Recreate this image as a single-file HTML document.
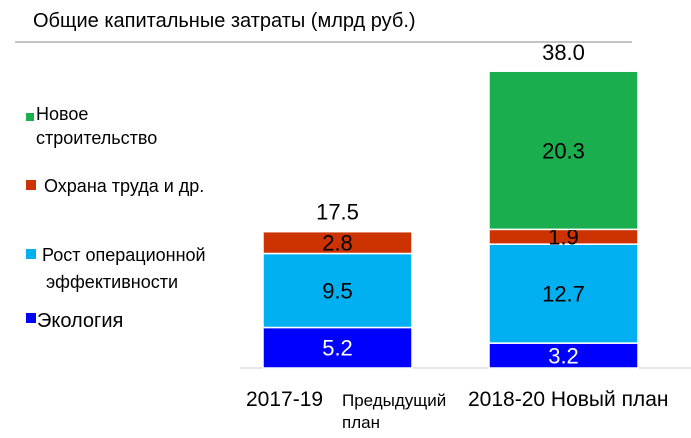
<!DOCTYPE html>
<html><head><meta charset="utf-8"><style>
html,body{margin:0;padding:0;background:#fff;}
svg{display:block;font-family:"Liberation Sans",sans-serif;}
</style></head><body>
<svg id="chart" width="691" height="438" viewBox="0 0 691 438">
<text x="33" y="27" font-size="20" fill="#000">Общие капитальные затраты (млрд руб.)</text>
<line x1="15" y1="42" x2="632" y2="42" stroke="#888" stroke-width="1"/>
<line x1="240" y1="368" x2="691" y2="368" stroke="#ddd" stroke-width="1.5"/>
<g>
 <rect x="26" y="113" width="8" height="8" fill="#1aae4e"/>
 <text font-size="18" fill="#000"><tspan x="36" y="120">Новое</tspan><tspan x="36" y="144">строительство</tspan></text>
 <rect x="26" y="180" width="10" height="10" fill="#cc3300"/>
 <text x="44" y="192" font-size="18" fill="#000">Охрана труда и др.</text>
 <rect x="26" y="249" width="10" height="10" fill="#00b0f0"/>
 <text font-size="18" fill="#000"><tspan x="42" y="261">Рост операционной</tspan><tspan x="46" y="288">эффективности</tspan></text>
 <rect x="26" y="313" width="10" height="10" fill="#0000ff"/>
 <text x="37" y="327" font-size="20" fill="#000">Экология</text>
</g>
<g id="bars"></g>
<text font-fill="#000"><tspan x="246" y="406" font-size="21">2017-19</tspan><tspan x="342" y="406" font-size="17">Предыдущий</tspan><tspan x="342" y="428" font-size="17">план</tspan></text>
<text x="468" y="406" font-size="21" fill="#000">2018-20 Новый план</text>
</svg>
<script>
const categories = ["2017-19", "2018-20"];
const ecology = [5.2, 3.2];
const efficiency = [9.5, 12.7];
const safety = [2.8, 1.9];
const newBuild = [0, 20.3];
const totals = [17.5, 38.0];

const ns = "http://www.w3.org/2000/svg";
const baseY = 368, pxPerUnit = 296 / 38;
const y = v => baseY - v * pxPerUnit;
const barX = [263, 489], barW = 149;
const series = [
  {vals: ecology, color: "#0000ff", txt: "#fff", name: "ecology"},
  {vals: efficiency, color: "#00b0f0", txt: "#000", name: "efficiency"},
  {vals: safety, color: "#cc3300", txt: "#000", name: "safety"},
  {vals: newBuild, color: "#1aae4e", txt: "#000", name: "new-build"}
];
const g = document.getElementById("bars");
categories.forEach((c, i) => {
  let cum = 0;
  series.forEach(s => {
    const v = s.vals[i];
    if (v <= 0) return;
    const y0 = y(cum), y1 = y(cum + v);
    const r = document.createElementNS(ns, "rect");
    
    
    r.setAttribute("x", barX[i]); r.setAttribute("y", y1);
    r.setAttribute("width", barW); r.setAttribute("height", y0 - y1);
    r.setAttribute("fill", s.color);
    r.setAttribute("stroke", "#fff"); r.setAttribute("stroke-width", "1.5");
    g.appendChild(r);
    const t = document.createElementNS(ns, "text");
    
    
    t.setAttribute("x", barX[i] + barW / 2); t.setAttribute("y", (y0 + y1) / 2 + 8);
    t.setAttribute("text-anchor", "middle"); t.setAttribute("font-size", "22");
    t.setAttribute("fill", s.txt);
    t.textContent = v.toFixed(1);
    g.appendChild(t);
    cum += v;
  });
  const tt = document.createElementNS(ns, "text");
  
  
  tt.setAttribute("x", barX[i] + barW / 2); tt.setAttribute("y", y(totals[i]) - 12);
  tt.setAttribute("text-anchor", "middle"); tt.setAttribute("font-size", "22");
  tt.textContent = totals[i].toFixed(1);
  g.appendChild(tt);
});
</script>
</body></html>
